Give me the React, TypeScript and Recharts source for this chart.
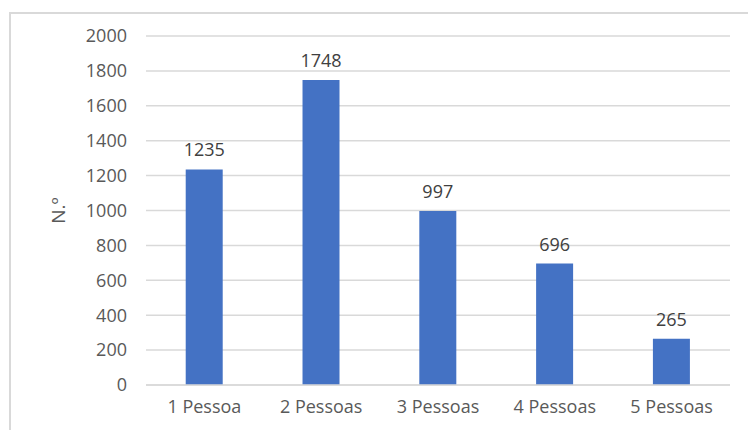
import { BarChart, Bar, XAxis, YAxis, CartesianGrid, LabelList } from 'recharts';

const categories = ['1 Pessoa', '2 Pessoas', '3 Pessoas', '4 Pessoas', '5 Pessoas'];
const counts = [1235, 1748, 997, 696, 265];
const yTicks = [0, 200, 400, 600, 800, 1000, 1200, 1400, 1600, 1800, 2000];

const data = categories.map((name, i) => ({ name, value: counts[i] }));

const font = '"Open Sans", "DejaVu Sans", sans-serif';

export default function App() {
  return (
    <div style={{ position: 'absolute', left: 0, top: 0, width: 748, height: 430, overflow: 'hidden', background: '#fff', fontFamily: font }}>
      <div
        style={{
          position: 'absolute',
          left: 9,
          top: 12,
          width: 800,
          height: 500,
          border: '2px solid #d9d9d9',
          boxSizing: 'border-box',
        }}
      />
      <div style={{ position: 'absolute', left: 0, top: 0 }}>
        <BarChart
          width={748}
          height={430}
          data={data}
          margin={{ top: 36, right: 18, left: 0, bottom: 15 }}
          barCategoryGap="34%"
        >
          <CartesianGrid vertical={false} stroke="#d9d9d9" strokeWidth={1.5} />
          <XAxis
            dataKey="name"
            axisLine={{ stroke: '#d9d9d9', strokeWidth: 1.5 }}
            tickLine={false}
            tick={{ fill: '#595959', fontSize: 18, fontFamily: font }}
            tickMargin={9}
            height={30}
          />
          <YAxis
            domain={[0, 2000]}
            ticks={yTicks}
            interval={0}
            width={146}
            axisLine={false}
            tickLine={false}
            tickMargin={13}
            tick={{ fill: '#595959', fontSize: 18, fontFamily: font }}
            label={{
              value: 'N.º',
              angle: -90,
              position: 'insideLeft',
              offset: 58,
              style: { fill: '#595959', fontSize: 19, fontFamily: font, textAnchor: 'middle' },
            }}
          />
          <Bar dataKey="value" fill="#4472c4" isAnimationActive={false}>
            <LabelList
              dataKey="value"
              position="top"
              offset={13}
              style={{ fill: '#404040', fontSize: 18, fontFamily: font }}
            />
          </Bar>
        </BarChart>
      </div>
    </div>
  );
}
